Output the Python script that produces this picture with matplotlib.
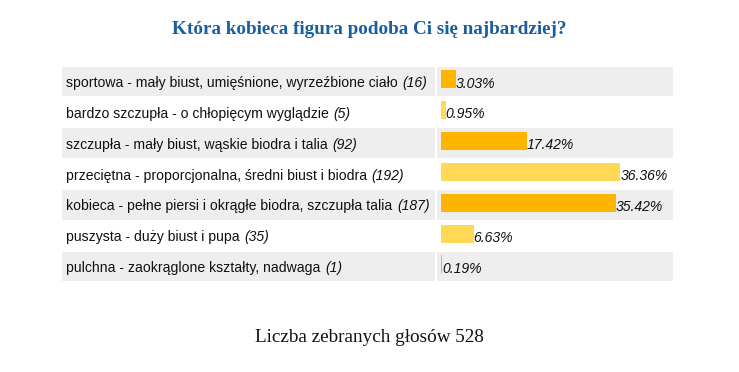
import matplotlib
matplotlib.use("Agg")
import matplotlib.pyplot as plt

# dane ankiety
title = "Która kobieca figura podoba Ci się najbardziej?"
footer = "Liczba zebranych głosów 528"
labels = [
    "sportowa - mały biust, umięśnione, wyrzeźbione ciało",
    "bardzo szczupła - o chłopięcym wyglądzie",
    "szczupła - mały biust, wąskie biodra i talia",
    "przeciętna - proporcjonalna, średni biust i biodra",
    "kobieca - pełne piersi i okrągłe biodra, szczupła talia",
    "puszysta - duży biust i pupa",
    "pulchna - zaokrąglone kształty, nadwaga",
]
votes = [16, 5, 92, 192, 187, 35, 1]
percents = [3.03, 0.95, 17.42, 36.36, 35.42, 6.63, 0.19]

W, H = 739, 372
fig = plt.figure(figsize=(W / 100, H / 100), dpi=100)
fig.patch.set_facecolor("white")

gray = "#EEEEEE"
dark = "#FFB400"
light = "#FFD955"

top, bottom = 66, 282
n = len(labels)


def add_ax(x0, x1):
    ax = fig.add_axes([x0 / W, (H - bottom) / H, (x1 - x0) / W, (bottom - top) / H])
    ax.set_ylim(n - 0.5, -0.5)
    ax.axis("off")
    for i in range(0, n, 2):
        ax.axhspan(i - 0.48, i + 0.48, color=gray, zorder=0, lw=0)
    return ax


ax_lab = add_ax(62, 435)
ax_bar = add_ax(437, 673)

px_per_pct = 4.93
ax_lab.set_xlim(0, 435 - 62)
ax_bar.set_xlim(-4 / px_per_pct, (673 - 441) / px_per_pct)

font = "Liberation Sans"
fs = 10.1
for i, (lab, v) in enumerate(zip(labels, votes)):
    t = ax_lab.text(4.5, i + 0.05, lab, fontsize=fs, family=font,
                    va="center", ha="left", color="#111111")
    ax_lab.annotate(f"({v})", xy=(1, 0), xycoords=t, xytext=(3.0, 0),
                    textcoords="offset points", fontsize=fs, family=font,
                    style="italic", va="bottom", ha="left", color="#111111")

colors = [dark if i % 2 == 0 else light for i in range(n)]
ys = [i - 0.07 for i in range(n)]
ax_bar.barh(ys, percents, height=0.58, color=colors, lw=0, zorder=2)
for i, p in enumerate(percents):
    ax_bar.text(p, i + 0.07, f"{p:.2f}%", fontsize=fs, family=font,
                style="italic", va="center", ha="left", color="#111111", zorder=3)

fig.text(369 / W, 1 - 30 / H, title, ha="center", va="center",
         family="Liberation Serif", weight="bold", fontsize=13.8, color="#1B5E9E")
fig.text(369 / W, 1 - 338 / H, footer, ha="center", va="center",
         family="Liberation Serif", fontsize=13.8, color="#111111")

fig.savefig("out.png", dpi=100, facecolor="white")
